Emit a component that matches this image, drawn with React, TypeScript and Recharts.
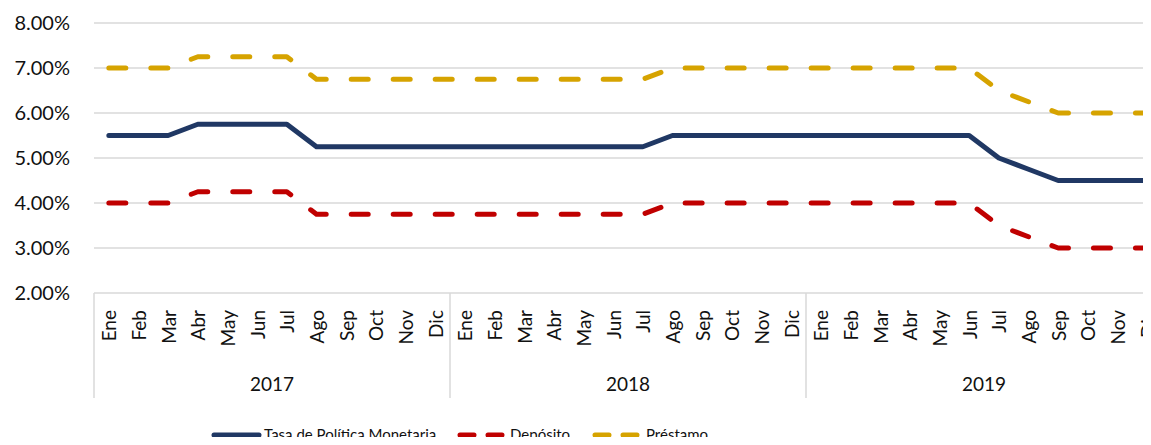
import { CartesianGrid, Legend, Line, LineChart, XAxis, YAxis } from 'recharts';

const monthNames = ['Ene', 'Feb', 'Mar', 'Abr', 'May', 'Jun', 'Jul', 'Ago', 'Sep', 'Oct', 'Nov', 'Dic'];
const years = ['2017', '2018', '2019'];

const tpm = [
  5.5, 5.5, 5.5, 5.75, 5.75, 5.75, 5.75, 5.25, 5.25, 5.25, 5.25, 5.25,
  5.25, 5.25, 5.25, 5.25, 5.25, 5.25, 5.25, 5.5, 5.5, 5.5, 5.5, 5.5,
  5.5, 5.5, 5.5, 5.5, 5.5, 5.5, 5.0, 4.75, 4.5, 4.5, 4.5, 4.5,
];
const deposito = [
  4.0, 4.0, 4.0, 4.25, 4.25, 4.25, 4.25, 3.75, 3.75, 3.75, 3.75, 3.75,
  3.75, 3.75, 3.75, 3.75, 3.75, 3.75, 3.75, 4.0, 4.0, 4.0, 4.0, 4.0,
  4.0, 4.0, 4.0, 4.0, 4.0, 4.0, 3.5, 3.25, 3.0, 3.0, 3.0, 3.0,
];
const prestamo = [
  7.0, 7.0, 7.0, 7.25, 7.25, 7.25, 7.25, 6.75, 6.75, 6.75, 6.75, 6.75,
  6.75, 6.75, 6.75, 6.75, 6.75, 6.75, 6.75, 7.0, 7.0, 7.0, 7.0, 7.0,
  7.0, 7.0, 7.0, 7.0, 7.0, 7.0, 6.5, 6.25, 6.0, 6.0, 6.0, 6.0,
];
const yTicks = [2, 3, 4, 5, 6, 7, 8];

const data = years.flatMap((year, yi) =>
  monthNames.map((month, mi) => {
    const i = yi * 12 + mi;
    return { key: `${month}-${year}`, month, year, tpm: tpm[i], deposito: deposito[i], prestamo: prestamo[i] };
  })
);

const FONT = 'Lato, "Open Sans", sans-serif';
const CHART_W = 1172;
const PLOT_LEFT = 94;
const PLOT_RIGHT = 1162;
const BAND = (PLOT_RIGHT - PLOT_LEFT) / data.length;
const GRID = '#d9d9d9';
const TEXT = '#111';

const colors = { tpm: '#203864', deposito: '#c00000', prestamo: '#d6a300' };

function MonthTick(props: any) {
  const { x, y, payload, index } = props;
  const row = data[index];
  const month = row ? row.month : payload.value;
  const left = x - BAND / 2;
  return (
    <g>
      <text
        transform={`translate(${x},${y + 17}) rotate(-90)`}
        textAnchor="end"
        dominantBaseline="central"
        fontSize={19}
        fontFamily={FONT}
        fill={TEXT}
      >
        {month}
      </text>
      {month === 'Ene' && <line x1={left} x2={left} y1={y} y2={y + 105} stroke={GRID} strokeWidth={1.5} />}
      {index === data.length - 1 && (
        <line x1={x + BAND / 2} x2={x + BAND / 2} y1={y} y2={y + 105} stroke={GRID} strokeWidth={1.5} />
      )}
      {month === 'Jul' && (
        <text x={left} y={y + 98} textAnchor="middle" fontSize={19} fontFamily={FONT} fill={TEXT}>
          {row.year}
        </text>
      )}
    </g>
  );
}

function ChartLegend() {
  const items = [
    { label: 'Tasa de Política Monetaria', color: colors.tpm, dash: undefined, from: 214, to: 259, text: 264 },
    { label: 'Depósito', color: colors.deposito, dash: '14 14', from: 460, to: 502, text: 510 },
    { label: 'Préstamo', color: colors.prestamo, dash: '14 14', from: 595, to: 637, text: 646 },
  ];
  return (
    <div style={{ position: 'relative', height: 37, fontFamily: FONT, fontSize: 15, color: TEXT }}>
      <svg width={700} height={37} style={{ position: 'absolute', left: 0, top: 0 }}>
        {items.map((it) => (
          <line
            key={it.label}
            x1={it.from}
            x2={it.to}
            y1={19}
            y2={19}
            stroke={it.color}
            strokeWidth={5}
            strokeLinecap="round"
            strokeDasharray={it.dash}
          />
        ))}
      </svg>
      {items.map((it) => (
        <span key={it.label} style={{ position: 'absolute', left: it.text, top: 0, lineHeight: '37px', whiteSpace: 'nowrap' }}>
          {it.label}
        </span>
      ))}
    </div>
  );
}

export default function App() {
  return (
    <div style={{ margin: -8, width: 1151, height: 445, overflow: 'hidden', background: '#fff' }}>
      <LineChart
        width={CHART_W}
        height={445}
        data={data}
        margin={{ top: 23, right: CHART_W - PLOT_RIGHT, bottom: 0, left: 0 }}
      >
        <CartesianGrid stroke={GRID} strokeWidth={1.5} vertical={false} />
        <XAxis
          dataKey="key"
          scale="band"
          interval={0}
          height={115}
          axisLine={false}
          tickLine={false}
          tickSize={0}
          tickMargin={0}
          tick={<MonthTick />}
        />
        <YAxis
          domain={[2, 8]}
          ticks={yTicks}
          width={PLOT_LEFT}
          axisLine={false}
          tickLine={false}
          tickSize={0}
          tickMargin={24}
          tickFormatter={(v: number) => `${v.toFixed(2)}%`}
          tick={{ fontSize: 20, fontFamily: FONT, fill: TEXT }}
        />
        <Legend
          content={<ChartLegend />}
          wrapperStyle={{ position: 'absolute', left: 0, top: 416, width: 1151, height: 37 }}
        />
        <Line
          dataKey="tpm"
          name="Tasa de Política Monetaria"
          type="linear"
          stroke={colors.tpm}
          strokeWidth={5}
          strokeLinejoin="round"
          strokeLinecap="round"
          dot={false}
          isAnimationActive={false}
        />
        <Line
          dataKey="deposito"
          name="Depósito"
          type="linear"
          stroke={colors.deposito}
          strokeWidth={5}
          strokeLinejoin="round"
          strokeLinecap="round"
          strokeDasharray="17 25"
          dot={false}
          isAnimationActive={false}
        />
        <Line
          dataKey="prestamo"
          name="Préstamo"
          type="linear"
          stroke={colors.prestamo}
          strokeWidth={5}
          strokeLinejoin="round"
          strokeLinecap="round"
          strokeDasharray="17 25"
          dot={false}
          isAnimationActive={false}
        />
      </LineChart>
    </div>
  );
}
